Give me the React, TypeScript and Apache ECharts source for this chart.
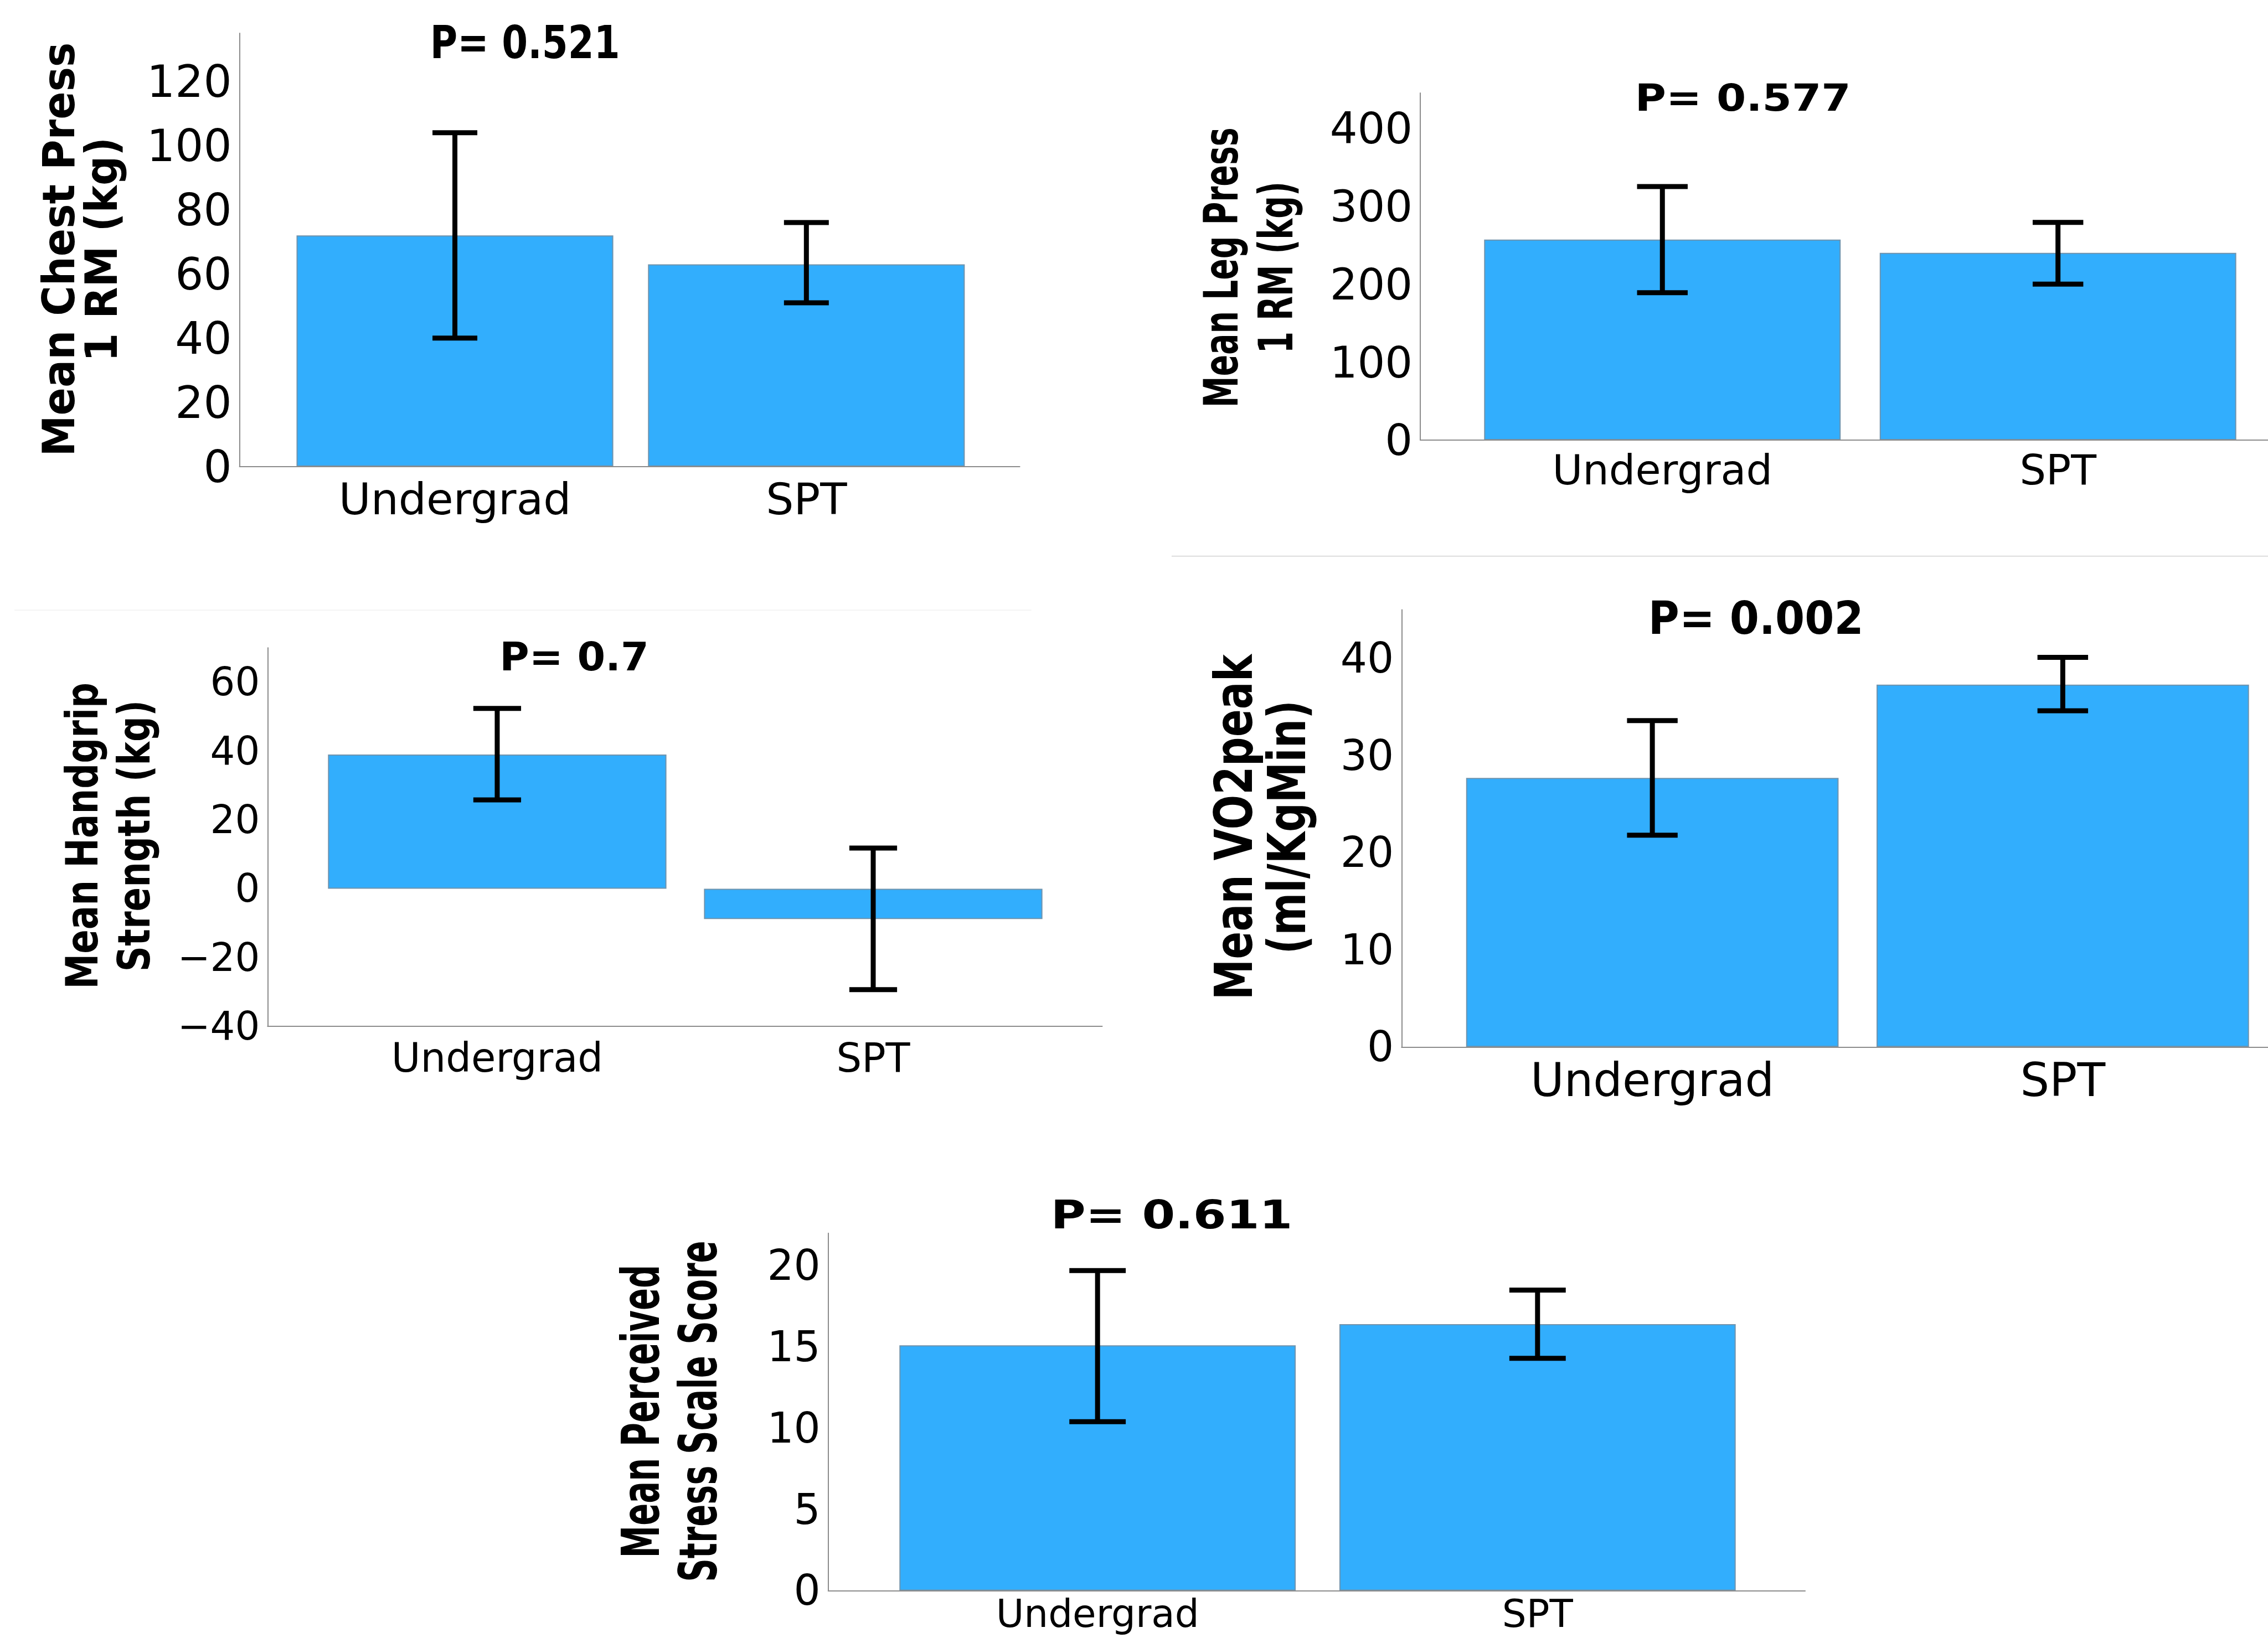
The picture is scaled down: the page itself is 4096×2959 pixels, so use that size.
import React, { useEffect, useRef } from 'react';
import * as echarts from 'echarts';

// ---------- data ----------
const categories = ['Undergrad', 'SPT'];

const chestMean = [72, 63];
const chestLow = [40, 51];
const chestHigh = [104, 76];

const legMean = [257, 240];
const legLow = [189, 200];
const legHigh = [325, 279];

const gripMean = [39, -8.8];
const gripLow = [25.8, -29.3];
const gripHigh = [52.4, 11.8];

const vo2Mean = [27.7, 37.3];
const vo2Low = [21.8, 34.6];
const vo2High = [33.6, 40.1];

const stressMean = [15.1, 16.4];
const stressLow = [10.4, 14.3];
const stressHigh = [19.7, 18.5];

const pValues = ['P= 0.521', 'P= 0.577', 'P= 0.7', 'P= 0.002', 'P= 0.611'];
const yTitles = [
  ['Mean Chest Press', '1 RM (kg)'],
  ['Mean Leg Press', '1 RM (kg)'],
  ['Mean Handgrip', 'Strength (kg)'],
  ['Mean VO2peak', '(ml/KgMin)'],
  ['Mean Perceived', 'Stress Scale Score'],
];
const yMin = [0, 0, -40, 0, 0];
const yMax = [135, 445, 70, 45, 22];
const yInterval = [20, 100, 20, 10, 5];

// ---------- layout (in units of the 1568-wide preview, scaled by K) ----------
const K = 4096 / 1568;
const layout = [
  { frame: [165.6, 705, 23, 322.6], bars: [314.5, 557.5, 219], cap: 31, tickFs: 30.8, catFs: 30.3, catMargin: 7.5,
    title: [363, 29.5, 31.5, 0.82], ytitle: [55.3, 172.5, 30.8, 28.5, 29.5] },
  { frame: [982, 1568, 64.3, 304.3], bars: [1149.3, 1422.8, 246.5], cap: 35, tickFs: 30, catFs: 28.7, catMargin: 6.5,
    title: [1205, 67.5, 26, 1.13], ytitle: [863, 185, 33, 21.8, 38] },
  { frame: [185, 762, 448, 709.8], bars: [343.75, 603.7, 234], cap: 33, tickFs: 27, catFs: 27.6, catMargin: 8,
    title: [397, 454, 27.4, 1.02], ytitle: [74.5, 578, 31, 24.6, 36] },
  { frame: [969, 1568, 421.7, 724], bars: [1143.25, 1428.8, 257.5], cap: 35, tickFs: 29, catFs: 31.8, catMargin: 7,
    title: [1214, 427.6, 31.5, 0.93], ytitle: [871.5, 572, 36, 28.3, 37] },
  { frame: [572.6, 1248, 852.8, 1100], bars: [758.8, 1063, 274], cap: 39, tickFs: 29, catFs: 26.5, catMargin: 2.5,
    title: [810, 840, 27.4, 1.2], ytitle: [463, 976, 36, 22.6, 40] },
];

const means = [chestMean, legMean, gripMean, vo2Mean, stressMean];
const lows = [chestLow, legLow, gripLow, vo2Low, stressLow];
const highs = [chestHigh, legHigh, gripHigh, vo2High, stressHigh];

const BAR_COLOR = '#32AEFD';
const AXIS_COLOR = '#8c8c8c';
const FONT = "'DejaVu Sans', Verdana, sans-serif";

function buildOption() {
  const grid: any[] = [];
  const xAxis: any[] = [];
  const yAxis: any[] = [];
  const series: any[] = [];
  const graphic: any[] = [];

  layout.forEach((L, i) => {
    const [fl, fr, ft, fb] = L.frame;
    const [c1, c2, bw] = L.bars;
    const band = c2 - c1;
    const fIdx = 2 * i;
    const bIdx = 2 * i + 1;

    grid.push({ left: fl * K, top: ft * K, width: (fr - fl) * K, height: (fb - ft) * K });
    grid.push({ left: (c1 - band / 2) * K, top: ft * K, width: 2 * band * K, height: (fb - ft) * K });

    xAxis.push({
      gridIndex: fIdx, type: 'value', min: 0, max: 1, z: 4,
      axisLine: { show: true, onZero: false, lineStyle: { color: AXIS_COLOR, width: 2 } },
      axisTick: { show: false }, axisLabel: { show: false }, splitLine: { show: false },
    });
    xAxis.push({
      gridIndex: bIdx, type: 'category', data: categories,
      axisLine: { show: false, onZero: false }, axisTick: { show: false }, splitLine: { show: false },
      axisLabel: {
        color: '#000', fontFamily: FONT, fontSize: L.catFs * K, lineHeight: L.catFs * K,
        margin: L.catMargin * K,
      },
    });
    yAxis.push({
      gridIndex: fIdx, type: 'value', min: yMin[i], max: yMax[i], interval: yInterval[i], z: 4,
      axisLine: { show: true, onZero: false, lineStyle: { color: AXIS_COLOR, width: 2 } },
      axisTick: { show: false }, splitLine: { show: false },
      axisLabel: {
        color: '#000', fontFamily: FONT, fontSize: L.tickFs * K, margin: 14,
        showMaxLabel: false, padding: [22, 0, 0, 0],
        formatter: (v: number) => String(v).replace('-', '\u2212'),
      },
    });
    yAxis.push({ gridIndex: bIdx, type: 'value', min: yMin[i], max: yMax[i], show: false });

    series.push({
      type: 'bar', xAxisIndex: bIdx, yAxisIndex: bIdx, data: means[i], barWidth: bw * K, z: 2,
      itemStyle: { color: BAR_COLOR, borderColor: '#6f93ad', borderWidth: 2 },
      silent: true,
    });
    const capHalf = (L.cap * K) / 2;
    series.push({
      type: 'custom', xAxisIndex: bIdx, yAxisIndex: bIdx, silent: true, z: 6,
      data: categories.map((_, j) => [j, lows[i][j], highs[i][j]]),
      encode: { x: 0, y: [1, 2] },
      renderItem: (params: any, api: any) => {
        const x = api.value(0);
        const lo = api.coord([x, api.value(1)]);
        const hi = api.coord([x, api.value(2)]);
        const st = { stroke: '#000', lineWidth: 9 };
        return {
          type: 'group',
          children: [
            { type: 'line', shape: { x1: lo[0], y1: lo[1], x2: hi[0], y2: hi[1] }, style: st },
            { type: 'line', shape: { x1: hi[0] - capHalf, y1: hi[1], x2: hi[0] + capHalf, y2: hi[1] }, style: st },
            { type: 'line', shape: { x1: lo[0] - capHalf, y1: lo[1], x2: lo[0] + capHalf, y2: lo[1] }, style: st },
          ],
        };
      },
    });

    const [tx, ty, tfs, tsx] = L.title;
    graphic.push({
      type: 'text', x: tx * K, y: ty * K, scaleX: tsx, scaleY: 1, silent: true,
      style: {
        text: pValues[i], fill: '#000', font: `bold ${tfs * K}px ${FONT}`,
        align: 'center', verticalAlign: 'middle',
      },
    });
    const [yx, yy, T, Ln, sp] = L.ytitle;
    graphic.push({
      type: 'text', x: yx * K, y: yy * K, rotation: Math.PI / 2, scaleX: Ln / T, scaleY: 1, silent: true,
      style: {
        text: yTitles[i].join('\n'), fill: '#000', font: `bold ${T * K}px ${FONT}`,
        lineHeight: sp * K, align: 'center', verticalAlign: 'middle',
      },
    });
  });

  // separator lines between panels
  graphic.push({
    type: 'line', silent: true, shape: { x1: 810 * K, y1: 384.6 * K, x2: 1568 * K, y2: 384.6 * K },
    style: { stroke: '#dcdcdc', lineWidth: 2 },
  });
  graphic.push({
    type: 'line', silent: true, shape: { x1: 10 * K, y1: 422 * K, x2: 713 * K, y2: 422 * K },
    style: { stroke: '#f3f3f3', lineWidth: 2 },
  });

  return {
    animation: false,
    backgroundColor: '#ffffff',
    grid, xAxis, yAxis, series, graphic,
  };
}

export default function App() {
  const ref = useRef<HTMLDivElement>(null);
  useEffect(() => {
    if (!ref.current) return;
    const chart = echarts.init(ref.current, undefined, { renderer: 'svg' });
    chart.setOption(buildOption() as any);
    return () => chart.dispose();
  }, []);
  return (
    <div
      ref={ref}
      style={{ position: 'fixed', left: 0, top: 0, width: '4096px', height: '2959px', background: '#fff' }}
    />
  );
}
